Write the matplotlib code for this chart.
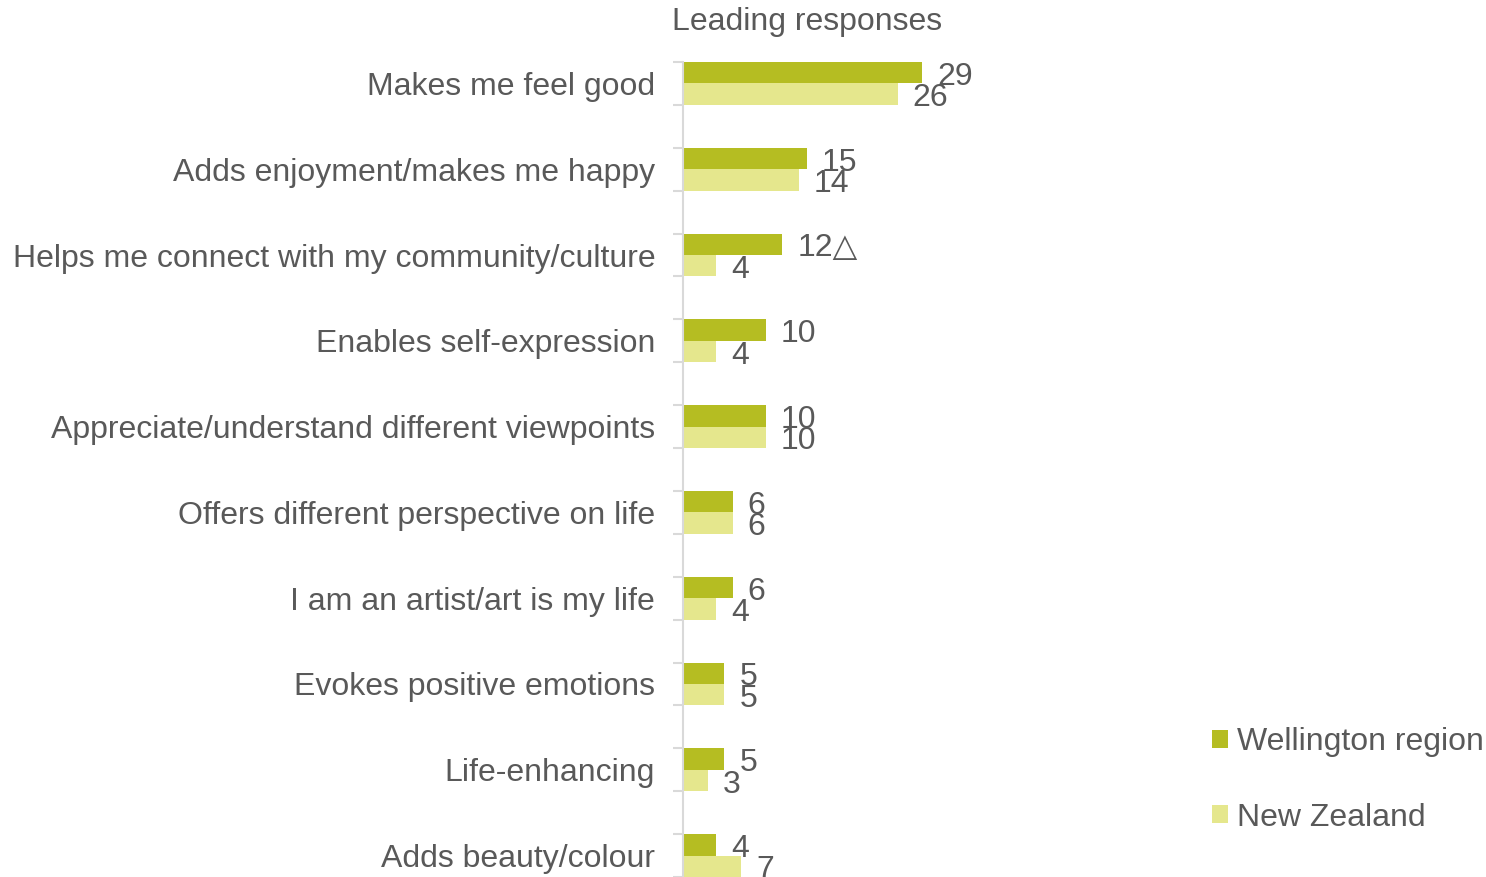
import matplotlib
matplotlib.use("Agg")
import matplotlib.pyplot as plt
import numpy as np

categories = [
    "Makes me feel good",
    "Adds enjoyment/makes me happy",
    "Helps me connect with my community/culture",
    "Enables self-expression",
    "Appreciate/understand different viewpoints",
    "Offers different perspective on life",
    "I am an artist/art is my life",
    "Evokes positive emotions",
    "Life-enhancing",
    "Adds beauty/colour",
]
wellington = [29, 15, 12, 10, 10, 6, 6, 5, 5, 4]
new_zealand = [26, 14, 4, 4, 10, 6, 4, 5, 3, 7]
wellington_labels = ["29", "15", "12\u25B3", "10", "10", "6", "6", "5", "5", "4"]
series_names = ["Wellington region", "New Zealand"]
title = "Leading responses"

C_WEL = "#B5BD22"
C_NZ = "#E5E78D"
TXT = "#595959"
FS = 23
FAM = ["Liberation Sans", "DejaVu Sans"]

plt.rcParams["font.family"] = FAM

W, H = 1486, 877
fig = plt.figure(figsize=(W / 100, H / 100), dpi=100)

ax_left = 683 / W
ax_w = 467 / W
ax_top_px = 62
ax_bottom_px = 877
ax = fig.add_axes([ax_left, 1 - ax_bottom_px / H, ax_w, (ax_bottom_px - ax_top_px) / H])

y = np.arange(len(categories))
bh = 0.25
ax.barh(y - bh / 2, wellington, height=bh, color=C_WEL, label=series_names[0])
ax.barh(y + bh / 2, new_zealand, height=bh, color=C_NZ, label=series_names[1])

ax.set_xlim(0, 467 / 8.25)
ax.set_ylim(len(categories) - 0.75, -0.25)

for i, (v, lab) in enumerate(zip(wellington, wellington_labels)):
    ax.annotate(lab, (v, i - bh / 2), xytext=(11, -3), textcoords="offset points",
                ha="left", va="center", fontsize=FS, color=TXT, family=FAM)
for i, v in enumerate(new_zealand):
    ax.annotate(str(v), (v, i + bh / 2), xytext=(11, -3), textcoords="offset points",
                ha="left", va="center", fontsize=FS, color=TXT, family=FAM)

for s in ["top", "right", "bottom"]:
    ax.spines[s].set_visible(False)
ax.spines["left"].set_color("#D9D9D9")
ax.spines["left"].set_linewidth(1.5)
ax.xaxis.set_visible(False)

ax.set_yticks(y)
ax.set_yticklabels(categories, fontsize=FS, color=TXT)
ax.tick_params(axis="y", which="major", length=0, pad=20)
ax.set_yticks(np.arange(-0.25, len(categories) - 0.5, 0.5), minor=True)
ax.tick_params(axis="y", which="minor", length=7, width=1.5, color="#D9D9D9")

fig.text(807 / W, 1 - 22 / H, title, ha="center", va="center", fontsize=FS, color=TXT)

leg = fig.legend(loc="center left", bbox_to_anchor=(1212 / W, 1 - 780 / H),
                 frameon=False, fontsize=FS, handlelength=0.5, handleheight=0.5,
                 handletextpad=0.28, labelspacing=1.42, borderpad=0, borderaxespad=0)
for t in leg.get_texts():
    t.set_color(TXT)

fig.savefig("out.png", dpi=100)
